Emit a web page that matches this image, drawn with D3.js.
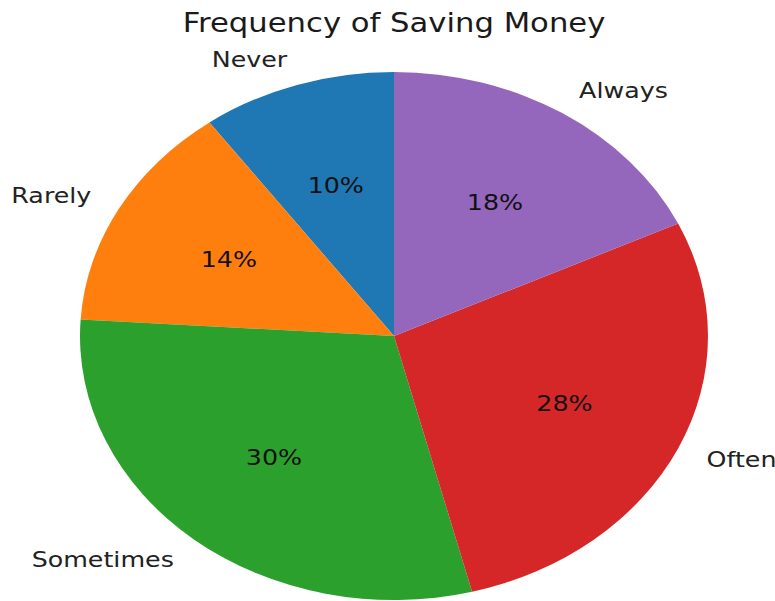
<!DOCTYPE html>
<html>
<head>
<meta charset="utf-8">
<script src="https://cdn.jsdelivr.net/npm/d3@7"></script>
<style>
  html, body { margin: 0; padding: 0; background: #fff; }
  svg { display: block; }
  text { font-family: "DejaVu Sans", sans-serif; }
</style>
</head>
<body>
<script>
// Survey answers, in drawing order (counter-clockwise from 12 o'clock)
const categories = ["Never", "Rarely", "Sometimes", "Often", "Always"];
const values = [10, 14, 30, 28, 18];
const colors = ["#1f77b4", "#ff7f0e", "#2ca02c", "#d62728", "#9467bd"];
const title = "Frequency of Saving Money";

const W = 775, H = 601;
const cx = 394, cy = 336;
const ry = 264;          // vertical radius
const sx = 314 / 264;    // horizontal stretch of the figure

const svg = d3.select("body").append("svg")
  .attr("width", W).attr("height", H);

svg.append("text")
  .attr("x", cx).attr("y", 32)
  .attr("text-anchor", "middle")
  .attr("font-size", 25.8)
  .attr("fill", "#1a1a1a")
  .attr("transform", `translate(${cx},0) scale(${sx},1) translate(${-cx},0)`)
  .text(title);

const g = svg.append("g")
  .attr("transform", `translate(${cx},${cy}) scale(${sx},1)`);

const pie = d3.pie().sort(null).value(d => d.v)
  .startAngle(0).endAngle(-2 * Math.PI);
const data = pie(categories.map((c, i) => ({ c, v: values[i], col: colors[i] })));
const total = d3.sum(values);

const arc = d3.arc().innerRadius(0).outerRadius(ry);

g.selectAll("path.slice").data(data).join("path")
  .attr("class", "slice")
  .attr("d", arc)
  .attr("fill", d => d.data.col);

const mid = d => (d.startAngle + d.endAngle) / 2;

// category labels outside the pie
g.selectAll("text.cat").data(data).join("text")
  .attr("class", "cat")
  .attr("x", d => 1.1 * ry * Math.sin(mid(d)))
  .attr("y", d => -1.1 * ry * Math.cos(mid(d)))
  .attr("text-anchor", d => Math.sin(mid(d)) < 0 ? "end" : "start")
  .attr("dominant-baseline", "central")
  .attr("font-size", 21.3)
  .attr("fill", "#222")
  .text(d => d.data.c);

// percentage labels inside each slice
g.selectAll("text.pct").data(data).join("text")
  .attr("class", "pct")
  .attr("x", d => 0.6 * ry * Math.sin(mid(d)))
  .attr("y", d => -0.6 * ry * Math.cos(mid(d)))
  .attr("text-anchor", "middle")
  .attr("dominant-baseline", "central")
  .attr("font-size", 21.3)
  .attr("fill", "#111")
  .text(d => Math.round(d.data.v / total * 100) + "%");
</script>
</body>
</html>
